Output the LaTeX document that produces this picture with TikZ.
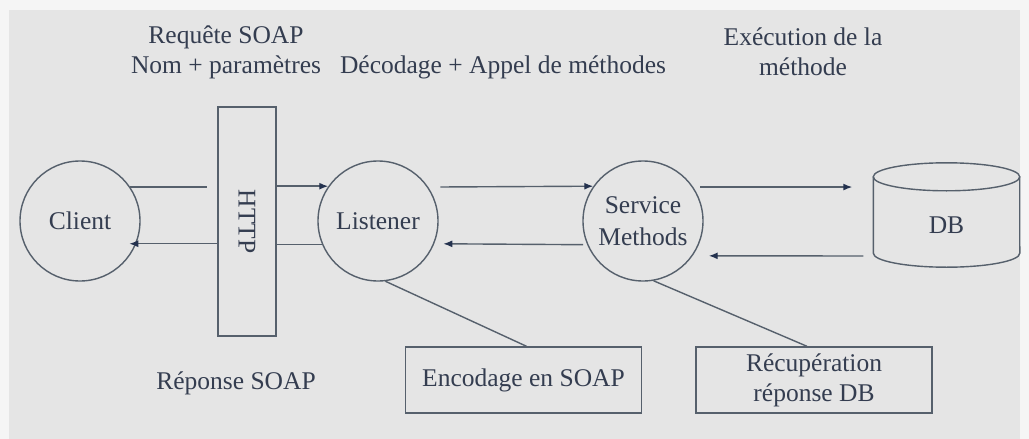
\documentclass[tikz,border=0pt]{standalone}
\usepackage{fontspec}
\setmainfont{Liberation Serif}
\usetikzlibrary{arrows.meta,calc}
\definecolor{panel}{HTML}{E5E5E5}
\definecolor{outer}{HTML}{F5F5F5}
\definecolor{ink}{HTML}{56606C}
\definecolor{txt}{HTML}{343D50}
\definecolor{tip}{HTML}{24324F}
\tikzset{
  every node/.style={text=txt, font=\fontsize{25.5}{30}\selectfont},
  line/.style={draw=ink, line width=1.4pt},
  flow/.style={line, -{Latex[length=9pt,width=7pt,color=tip]}},
  proc/.style={line, circle, inner sep=0pt, minimum size=120pt, align=center},
  infobox/.style={line, rectangle, inner sep=0pt, minimum width=236pt, minimum height=66pt, align=center},
  caption/.style={align=center, inner sep=0pt},
}
\begin{document}
\begin{tikzpicture}[x=1pt,y=-1pt]
  % page and grey panel
  \fill[outer] (0,0) rectangle (1029,439);
  \fill[panel] (9,10) rectangle (1020,439);
  \useasboundingbox (0,0) rectangle (1029,439);

  % processes
  \node[proc] (client) at (80,221) {Client};
  \node[line, rectangle, inner sep=0pt, minimum width=58pt, minimum height=229pt] (http) at (247,221.5) {};
  \node[rotate=-90, inner sep=0pt] (httplbl) at (http.center) {HTTP};
  \node[proc] (listener) at (378,221) {Listener};
  \node[proc, font=\fontsize{25.5}{32}\selectfont] (service) at (643,221) {Service\\Methods};

  % database cylinder (body node, outline drawn around it)
  \node[minimum width=146pt, minimum height=104pt, inner sep=0pt] (db) at (946.5,215) {\raisebox{-18pt}[0pt][0pt]{DB}};
  \draw[line] ([yshift=-14pt]db.north west) -- ([yshift=14pt]db.south west)
     arc[start angle=180, end angle=360, x radius=73.25pt, y radius=14pt]
     -- ([yshift=-14pt]db.north east);
  \draw[line] ([yshift=-14pt]db.north) ellipse[x radius=73.25pt, y radius=14pt];
  \coordinate (dbret) at ([yshift=-41pt]db.west);

  % result boxes
  \node[infobox] (enc) at (523.5,380) {Encodage en SOAP};
  \node[infobox] (rec) at (814,380) {Récupération\\réponse DB};

  % captions
  \node[caption] (req) at (226,52) {Requête SOAP\\Nom + paramètres};
  \node[caption] (dec) at (503,67) {Décodage + Appel de méthodes};
  \node[caption] (exe) at (803,52) {Exécution de la\\méthode};
  \node[caption] (rep) at (236,383) {Réponse SOAP};

  % request path
  \draw[line, shorten >=10pt] (client.34.5) -- (http.west |- client.34.5);
  \draw[flow] (http.east |- listener.145.5) -- (listener.145.5);
  \draw[flow, shorten <=12pt] (listener.34.5) -- (service.145.5);
  \draw[flow, shorten <=7pt, shorten >=21pt] (service.34.5) -- (db.west |- service.34.5);

  % response path
  \draw[flow, shorten <=10pt, shorten >=16pt] (dbret) -- (service.-35.7);
  \draw[flow, shorten <=4pt, shorten >=9pt] (service.-157.5) -- (listener.-22.5);
  \draw[line] (listener.-157.5) -- (http.east |- listener.-157.5);
  \draw[flow, shorten >=-7pt] (http.west |- client.-22.5) -- (client.-22.5);

  % links to the boxes
  \draw[line] (listener.-83) -- ([xshift=3pt]enc.north);
  \draw[line] (service.-80) -- ([xshift=-7pt]rec.north);
\end{tikzpicture}
\end{document}
